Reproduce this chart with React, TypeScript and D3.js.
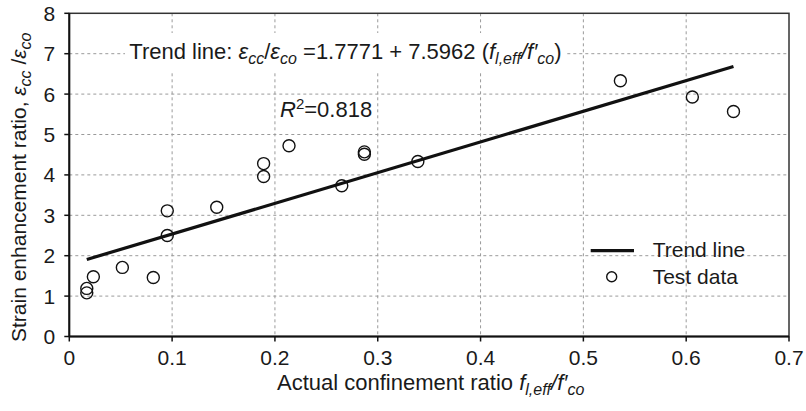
import React from "react";
import * as d3 from "d3";

const xTicks = [0, 0.1, 0.2, 0.3, 0.4, 0.5, 0.6, 0.7];
const yTicks = [0, 1, 2, 3, 4, 5, 6, 7, 8];
const testX = [0.017, 0.017, 0.0234, 0.0516, 0.0817, 0.0953, 0.0953, 0.1434, 0.189, 0.189, 0.2137, 0.265, 0.287, 0.287, 0.339, 0.536, 0.606, 0.646];
const testY = [1.19, 1.08, 1.48, 1.71, 1.46, 3.11, 2.5, 3.2, 4.28, 3.96, 4.72, 3.73, 4.57, 4.51, 4.33, 6.33, 5.93, 5.57];
const trendIntercept = 1.7771;
const trendSlope = 7.5962;
const trendRange = [0.017, 0.646];

const W = 806;
const H = 411;
const FONT = "'Liberation Sans', Arial, Helvetica, sans-serif";
const TXT = "#1a1a1a";

export default function App() {
  const x = d3.scaleLinear().domain([0, 0.7]).range([69.3, 789]);
  const y = d3.scaleLinear().domain([0, 8]).range([336.5, 13.3]);
  const line = d3
    .line<number>()
    .x((d) => x(d))
    .y((d) => y(trendIntercept + trendSlope * d));
  const x0 = x(0), x1 = x(0.7), y0 = y(0), y1 = y(8);
  const sub = { fontSize: 16, fontStyle: "italic" as const };

  return (
    <svg width={W} height={H} style={{ position: "absolute", left: 0, top: 0, background: "#fff" }} fontFamily={FONT}>
      {/* grid */}
      <g stroke="#9a9a9a" strokeWidth={1} strokeDasharray="3,3">
        {xTicks.slice(1, -1).map((t) => (
          <line key={"gx" + t} x1={x(t)} x2={x(t)} y1={y1} y2={y0} />
        ))}
        {yTicks.slice(1, -1).map((t) => (
          <line key={"gy" + t} x1={x0} x2={x1} y1={y(t)} y2={y(t)} />
        ))}
      </g>
      {/* frame */}
      <rect x={x0} y={y1} width={x1 - x0} height={y0 - y1} fill="none" stroke="#333" strokeWidth={1.5} />
      <line x1={x0} x2={x0} y1={y1} y2={y0} stroke="#111" strokeWidth={2} />
      <line x1={x0} x2={x1} y1={y0} y2={y0} stroke="#111" strokeWidth={2} />
      {/* ticks */}
      {xTicks.map((t) => (
        <g key={"xt" + t}>
          <line x1={x(t)} x2={x(t)} y1={y0} y2={y0 + 5} stroke="#111" strokeWidth={1.5} />
          <text x={x(t)} y={y0 + 28} textAnchor="middle" fontSize={21} fill={TXT}>
            {d3.format("")(t)}
          </text>
        </g>
      ))}
      {yTicks.map((t) => (
        <g key={"yt" + t}>
          <line x1={x0 - 5} x2={x0} y1={y(t)} y2={y(t)} stroke="#111" strokeWidth={1.5} />
          <text x={x0 - 14} y={y(t) + 7.5} textAnchor="end" fontSize={21} fill={TXT}>
            {t}
          </text>
        </g>
      ))}
      {/* annotation box */}
      <rect x={125} y={33} width={442} height={39} fill="#fff" />
      <text x={129.3} y={59} fontSize={22} fill={TXT}>
        <tspan>Trend line: </tspan>
        <tspan fontStyle="italic">ε</tspan>
        <tspan dy={5} {...sub}>cc</tspan>
        <tspan dy={-5}>/</tspan>
        <tspan fontStyle="italic">ε</tspan>
        <tspan dy={5} {...sub}>co</tspan>
        <tspan dy={-5}> =1.7771 + 7.5962 (</tspan>
        <tspan fontStyle="italic">f</tspan>
        <tspan dy={5} {...sub}>l,eff</tspan>
        <tspan dy={-5} fontStyle="italic">/f′</tspan>
        <tspan dy={5} {...sub}>co</tspan>
        <tspan dy={-5}>)</tspan>
      </text>
      <text x={280} y={117} fontSize={22} fill={TXT}>
        <tspan fontStyle="italic">R</tspan>
        <tspan dy={-8} fontSize={15}>2</tspan>
        <tspan dy={8}>=0.818</tspan>
      </text>
      {/* trend line */}
      <path d={line(trendRange) || ""} stroke="#111" strokeWidth={3.2} fill="none" />
      {/* data */}
      {testX.map((v, i) => (
        <circle key={"p" + i} cx={x(v)} cy={y(testY[i])} r={6} fill="none" stroke="#111" strokeWidth={1.4} />
      ))}
      {/* legend */}
      <line x1={590.7} x2={634} y1={250.7} y2={250.7} stroke="#111" strokeWidth={3.2} />
      <text x={652.7} y={256.5} fontSize={21} fill={TXT}>Trend line</text>
      <circle cx={611.7} cy={276.7} r={5} fill="none" stroke="#111" strokeWidth={1.4} />
      <text x={652.7} y={283.5} fontSize={21} fill={TXT}>Test data</text>
      {/* axis titles */}
      <text x={277} y={390} fontSize={22} fill={TXT}>
        <tspan>Actual confinement ratio </tspan>
        <tspan fontStyle="italic">f</tspan>
        <tspan dy={5} {...sub}>l,eff</tspan>
        <tspan dy={-5} fontStyle="italic">/f′</tspan>
        <tspan dy={5} {...sub}>co</tspan>
      </text>
      <text transform="translate(25.5,342) rotate(-90)" fontSize={21} fill={TXT}>
        <tspan>Strain enhancement ratio, </tspan>
        <tspan fontStyle="italic">ε</tspan>
        <tspan dy={5} {...sub}>cc</tspan>
        <tspan dy={-5}> /</tspan>
        <tspan fontStyle="italic">ε</tspan>
        <tspan dy={5} {...sub}>co</tspan>
      </text>
    </svg>
  );
}
